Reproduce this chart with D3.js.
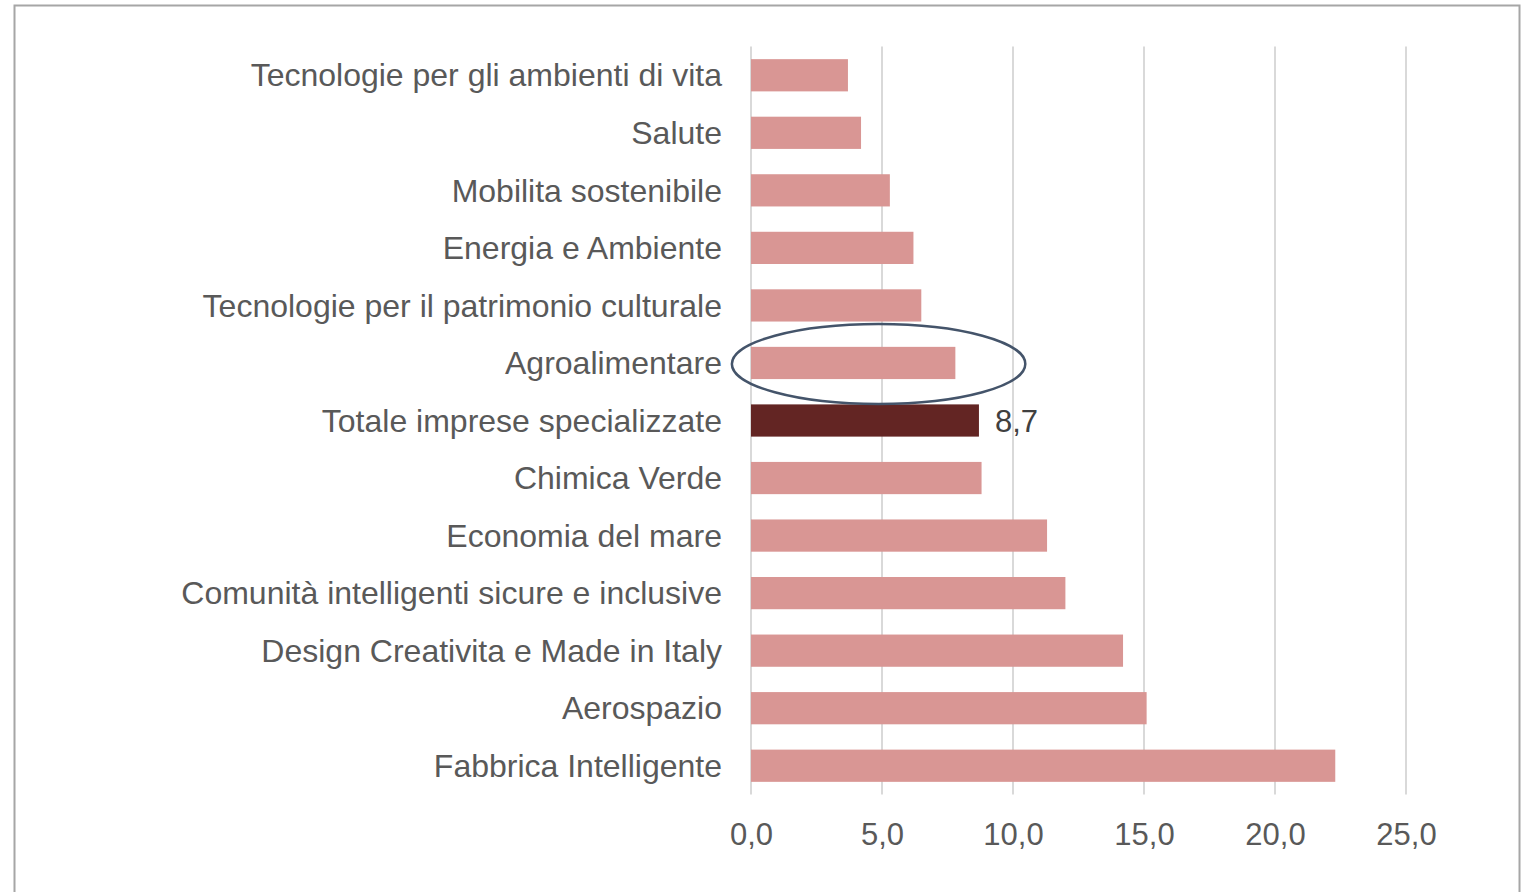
<!DOCTYPE html>
<html lang="it">

<head>
    <meta charset="UTF-8">
    <title>Imprese specializzate</title>
    <script src="https://d3js.org/d3.v7.min.js"></script>
    <style>
        body {
            margin: 0;
            background: #fff;
        }

        svg text {
            font-family: "Liberation Sans", Arial, sans-serif;
        }
    </style>
</head>

<body>
    <div id="chart"></div>
    <script>
        // data (top to bottom)
        var categories = [
            "Tecnologie per gli ambienti di vita",
            "Salute",
            "Mobilita sostenibile",
            "Energia e Ambiente",
            "Tecnologie per il patrimonio culturale",
            "Agroalimentare",
            "Totale imprese specializzate",
            "Chimica Verde",
            "Economia del mare",
            "Comunità intelligenti sicure e inclusive",
            "Design Creativita e Made in Italy",
            "Aerospazio",
            "Fabbrica Intelligente"
        ];
        var values = [3.7, 4.2, 5.3, 6.2, 6.5, 7.8, 8.7, 8.8, 11.3, 12.0, 14.2, 15.1, 22.3];
        var xTicks = [0, 5, 10, 15, 20, 25];
        var totalLabel = "Totale imprese specializzate";
        var circled = "Agroalimentare";

        var W = 1524, H = 892;

        var svg = d3.select("#chart")
            .append("svg")
            .attr("width", W)
            .attr("height", H);

        // outer frame
        svg.append("rect")
            .attr("x", 14.5).attr("y", 5.5)
            .attr("width", 1505).attr("height", 900)
            .attr("fill", "none")
            .attr("stroke", "#a6a6a6")
            .attr("stroke-width", 2);

        var x = d3.scaleLinear()
            .domain([0, 25])
            .range([751, 1406]);

        var y = d3.scaleBand()
            .domain(categories)
            .range([46.5, 794.5])
            .paddingInner(0.44)
            .paddingOuter(0.22);

        var fmt = function (d) { return d.toFixed(1).replace(".", ","); };

        // gridlines
        svg.append("g")
            .selectAll("line")
            .data(xTicks)
            .enter()
            .append("line")
            .attr("x1", function (d) { return x(d); })
            .attr("x2", function (d) { return x(d); })
            .attr("y1", 46.5)
            .attr("y2", 794.5)
            .attr("stroke", "#d9d9d9")
            .attr("stroke-width", 2);

        // x axis labels
        var xAxis = svg.append("g")
            .attr("transform", "translate(0,794)")
            .call(d3.axisBottom(x).tickValues(xTicks).tickFormat(fmt).tickSize(0));
        xAxis.select(".domain").remove();
        xAxis.selectAll("text")
            .attr("y", 40)
            .attr("dy", "0.35em")
            .style("font-size", "31px")
            .attr("fill", "#595959");

        // y axis labels
        var yAxis = svg.append("g")
            .attr("transform", "translate(722,0)")
            .call(d3.axisLeft(y).tickSize(0).tickPadding(0));
        yAxis.select(".domain").remove();
        yAxis.selectAll("text")
            .style("font-size", "32px")
            .attr("fill", "#595959")
            .attr("dy", "0.35em");

        // bars
        svg.selectAll(".bar")
            .data(categories)
            .enter()
            .append("rect")
            .attr("class", "bar")
            .attr("x", x(0))
            .attr("y", function (d) { return y(d); })
            .attr("width", function (d, i) { return x(values[i]) - x(0); })
            .attr("height", y.bandwidth())
            .attr("fill", function (d) { return d === totalLabel ? "#632523" : "#d99694"; });

        // value label on the total bar
        var ti = categories.indexOf(totalLabel);
        svg.append("text")
            .attr("x", x(values[ti]) + 16)
            .attr("y", y(totalLabel) + y.bandwidth() / 2)
            .attr("dy", "0.38em")
            .style("font-size", "31px")
            .attr("fill", "#404040")
            .text(fmt(values[ti]));

        // ellipse around the highlighted bar
        svg.append("ellipse")
            .attr("cx", x(4.87))
            .attr("cy", y(circled) + y.bandwidth() / 2 + 1)
            .attr("rx", x(5.6) - x(0))
            .attr("ry", 40)
            .attr("fill", "none")
            .attr("stroke", "#44546a")
            .attr("stroke-width", 2.5);
    </script>
</body>

</html>
